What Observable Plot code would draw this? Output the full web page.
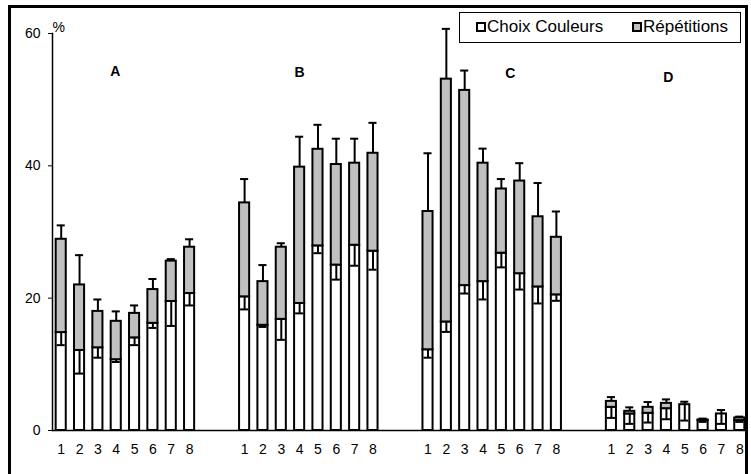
<!DOCTYPE html>
<html><head><meta charset="utf-8">
<script src="https://cdn.jsdelivr.net/npm/d3@7"></script>
<script src="https://cdn.jsdelivr.net/npm/@observablehq/plot@0.6"></script>
<style>
body{margin:0;background:#fff;font-family:"Liberation Sans",Arial,sans-serif;}
#wrap{position:relative;width:751px;height:474px;overflow:hidden;background:#fff;}
#chart svg{display:block}
#border{position:absolute;left:8px;top:5px;width:740px;height:600px;border:3px solid #000;box-sizing:border-box;pointer-events:none}
#legend{position:absolute;left:459px;top:12px;width:282px;height:31px;border:1.5px solid #000;background:#fff;box-sizing:border-box;font-size:17px;color:#000}
#legend .item{position:absolute;top:4px;display:flex;align-items:center;white-space:nowrap;line-height:20px}
#legend .sw{display:inline-block;width:10px;height:10px;border:2px solid #000;box-sizing:border-box;margin-right:1px}
</style></head>
<body>
<div id="wrap">
  <div id="chart"></div>
  <div id="border"></div>
  <div id="legend"></div>
</div>
<script>
// ---- data ----
const groups = ["A", "B", "C", "D"];
const barLabels = ["1", "2", "3", "4", "5", "6", "7", "8"];
const seriesNames = ["Choix Couleurs", "Répétitions"];
const seriesColors = ["#ffffff", "#c0c0c0"];
const yTicks = [0, 20, 40, 60];

// Choix Couleurs (white, bottom segment) per group
const choixA = [14.8, 12.1, 12.5, 10.7, 14.0, 16.2, 19.5, 20.7];
const choixB = [20.2, 15.9, 16.8, 19.2, 27.9, 25.0, 28.0, 27.1];
const choixC = [12.2, 16.4, 21.9, 22.5, 26.8, 23.7, 21.7, 20.5];
const choixD = [3.5, 2.5, 2.6, 3.3, 3.9, 1.5, 2.5, 1.5];
// Répétitions (grey, stacked segment)
const repetA = [14.1, 9.9, 5.5, 5.8, 3.7, 5.1, 6.1, 7.0];
const repetB = [14.2, 6.6, 10.9, 20.6, 14.6, 15.2, 12.4, 14.8];
const repetC = [20.9, 36.7, 29.5, 17.9, 9.7, 14.0, 10.6, 8.7];
const repetD = [0.9, 0.4, 0.9, 0.8, 0.0, 0.1, 0.0, 0.4];
// error (downward from Choix top)
const choixErrA = [1.9, 3.5, 1.5, 0.35, 1.1, 0.7, 3.7, 1.8];
const choixErrB = [1.9, 0.25, 3.1, 1.5, 1.1, 2.2, 3.1, 2.8];
const choixErrC = [1.2, 1.5, 1.2, 2.7, 2.15, 2.4, 2.5, 0.9];
const choixErrD = [1.6, 1.5, 1.4, 1.6, 2.4, 0.2, 1.5, 0.2];
// error (upward from stacked total)
const repetErrA = [2.1, 4.5, 1.8, 1.5, 1.2, 1.6, 0.3, 1.2];
const repetErrB = [3.6, 2.5, 0.6, 4.6, 3.7, 3.9, 3.7, 4.6];
const repetErrC = [8.8, 7.6, 3.0, 2.2, 1.5, 2.7, 5.1, 3.9];
const repetErrD = [0.65, 0.6, 0.8, 0.6, 0.45, 0.2, 0.6, 0.2];

const choix = {A: choixA, B: choixB, C: choixC, D: choixD};
const repet = {A: repetA, B: repetB, C: repetC, D: repetD};
const choixErr = {A: choixErrA, B: choixErrB, C: choixErrC, D: choixErrD};
const repetErr = {A: repetErrA, B: repetErrB, C: repetErrC, D: repetErrD};

// ---- build table ----
const rows = [];
const domain = [];
groups.forEach((g, gi) => {
  barLabels.forEach((b, i) => {
    const key = g + b;
    domain.push(key);
    const c = choix[g][i], r = repet[g][i];
    rows.push({key, group: g, bar: b, choix: c, repet: r, total: c + r,
               cLow: c - choixErr[g][i], tHigh: c + r + repetErr[g][i]});
  });
  if (gi < groups.length - 1) { domain.push(g + "_gap1"); domain.push(g + "_gap2"); }
});

const labelAnchor = {A: "A4", B: "B4", C: "C5", D: "D4"};
const labelDx = {A: -1, B: 0, C: 9, D: 2};
const labelY = {A: 54.3, B: 54.1, C: 53.9, D: 53.4};

const chart = Plot.plot({
  width: 751,
  height: 474,
  marginLeft: 52,
  marginRight: 3,
  marginTop: 33,
  marginBottom: 44,
  style: {fontFamily: "'Liberation Sans', Arial, sans-serif", color: "#000", background: "transparent"},
  x: {type: "band", domain, paddingInner: 0.45, paddingOuter: 0.2, round: false},
  y: {domain: [0, 60]},
  marks: [
    Plot.frame({anchor: "left", stroke: "#000", strokeWidth: 1.5}),
    Plot.ruleY([0], {stroke: "#000", strokeWidth: 1.5}),
    Plot.barY(rows, {x: "key", y1: 0, y2: "choix", fill: seriesColors[0], stroke: "#000", strokeWidth: 2}),
    Plot.barY(rows.filter(d => d.repet > 0), {x: "key", y1: "choix", y2: "total", fill: seriesColors[1], stroke: "#000", strokeWidth: 2}),
    Plot.ruleX(rows, {x: "key", y1: "choix", y2: "cLow", stroke: "#000", strokeWidth: 2}),
    Plot.tickY(rows, {x: "key", y: "cLow", stroke: "#000", strokeWidth: 2, insetLeft: 1, insetRight: 1}),
    Plot.ruleX(rows, {x: "key", y1: "total", y2: "tHigh", stroke: "#000", strokeWidth: 2}),
    Plot.tickY(rows, {x: "key", y: "tHigh", stroke: "#000", strokeWidth: 2, insetLeft: 1, insetRight: 1}),
    ...groups.map(g => Plot.text([g], {x: () => labelAnchor[g], y: () => labelY[g], text: d => d, dx: labelDx[g],
      fontWeight: "bold", fontSize: 14, fill: "#000"})),
    Plot.text(["%"], {frameAnchor: "top-left", text: d => d, textAnchor: "start", dx: 0, dy: -11, fontSize: 14, fill: "#000"}),
    Plot.axisY({ticks: yTicks, tickSize: 4, tickPadding: 8, fontSize: 14, label: null, stroke: "#000", fill: "#000"}),
    Plot.axisX({tickSize: 0, tickPadding: 14, fontSize: 14, label: null, fill: "#000",
      tickFormat: d => d.includes("_") ? "" : d.slice(1)})
  ]
});
document.getElementById("chart").append(chart);

// legend (overlaid in the top-right corner, as in the reference)
const legend = document.getElementById("legend");
const legendLeft = [16, 172];
seriesNames.forEach((name, i) => {
  const item = document.createElement("div");
  item.className = "item";
  item.style.left = legendLeft[i] + "px";
  const sw = document.createElement("span");
  sw.className = "sw";
  sw.style.background = seriesColors[i];
  item.append(sw, document.createTextNode(name));
  legend.append(item);
});
</script>
</body></html>
